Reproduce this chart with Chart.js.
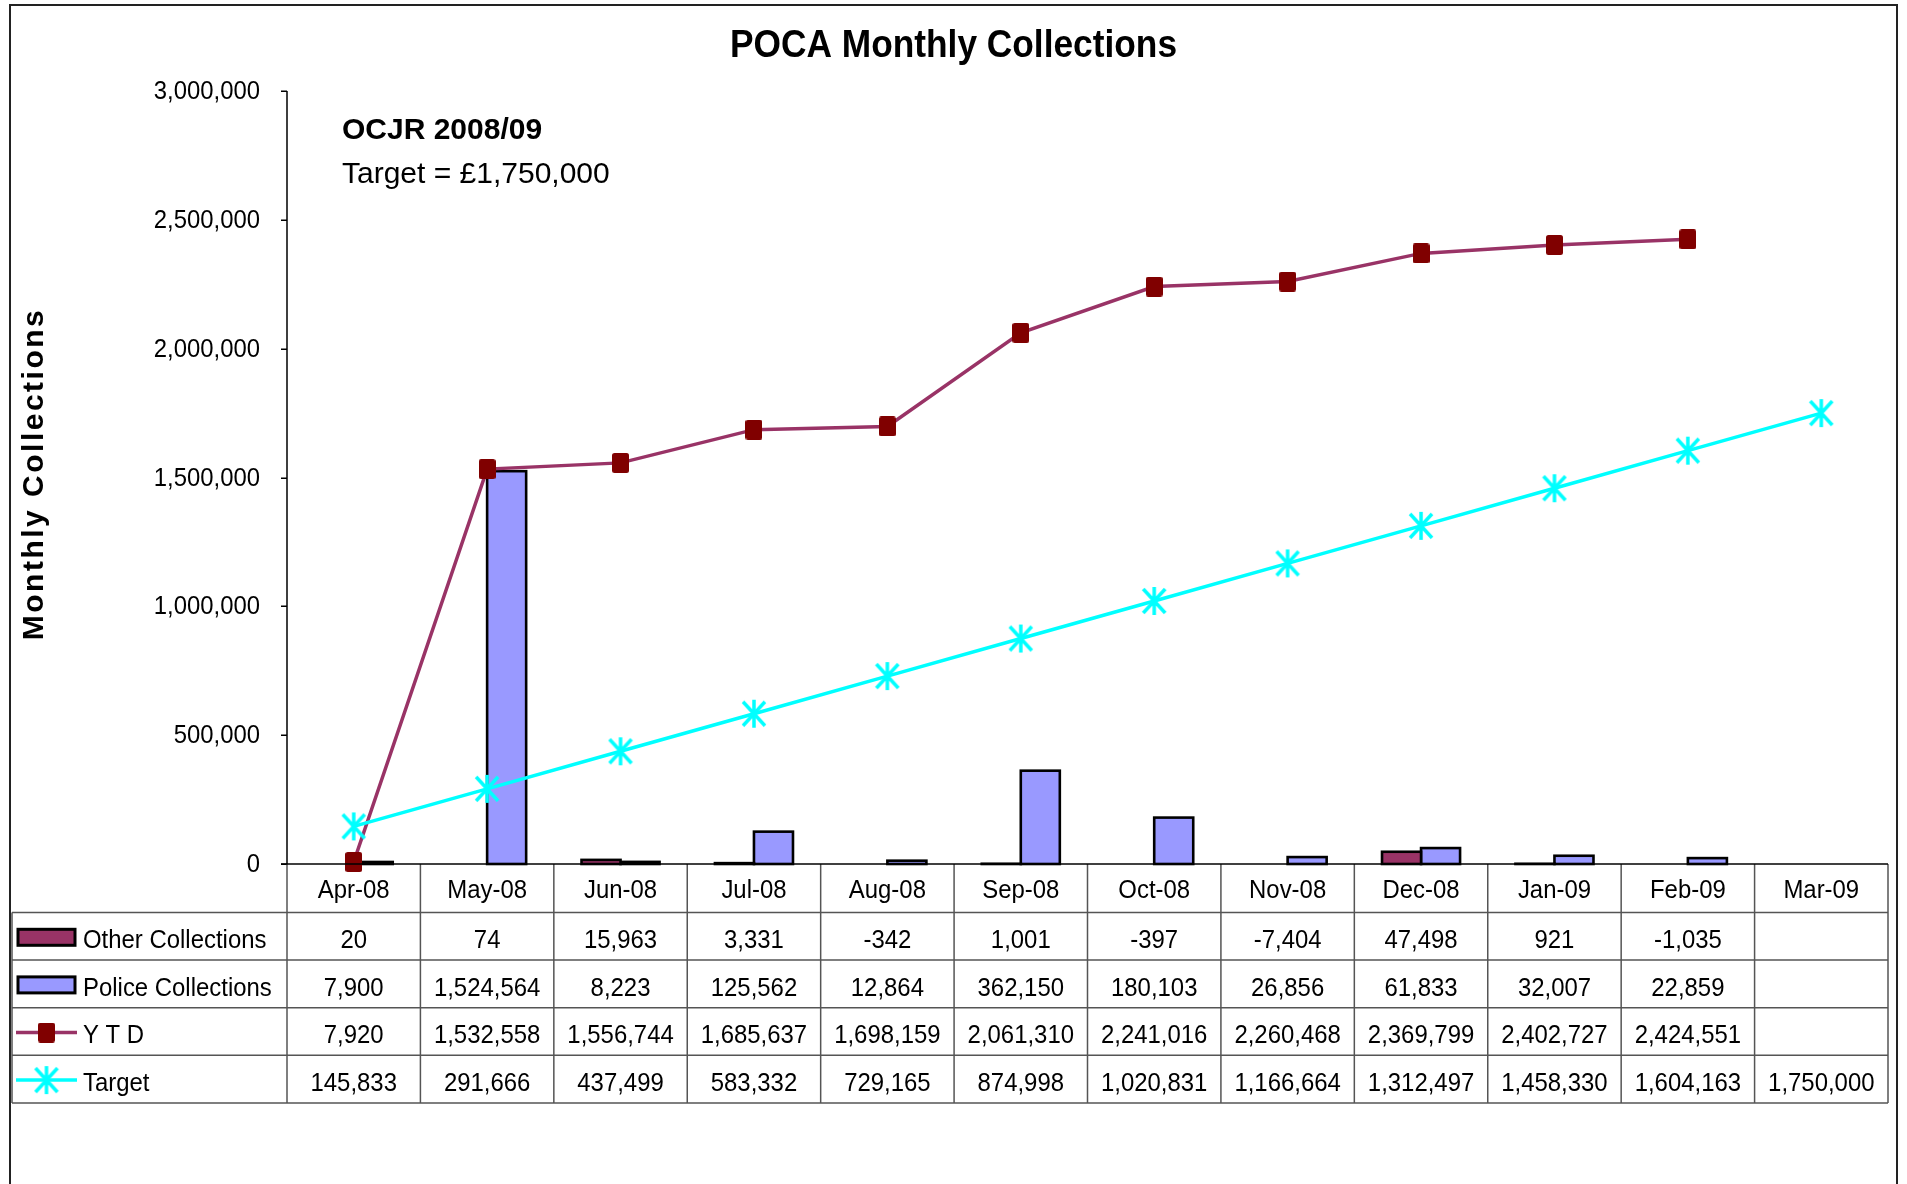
<!DOCTYPE html>
<html>
<head>
<meta charset="utf-8">
<title>POCA Monthly Collections</title>
<script src="https://cdn.jsdelivr.net/npm/chart.js@4.4.0/dist/chart.umd.min.js"></script>
<style>
  html, body { margin: 0; padding: 0; background: #fff; overflow: hidden; }
  canvas { display: block; }
</style>
</head>
<body>
<canvas id="chart" width="1907" height="1184"></canvas>
<script>
// Monthly collections, financial year 2008/09
const months = ['Apr-08', 'May-08', 'Jun-08', 'Jul-08', 'Aug-08', 'Sep-08',
                'Oct-08', 'Nov-08', 'Dec-08', 'Jan-09', 'Feb-09', 'Mar-09'];
const otherCollections  = [20, 74, 15963, 3331, -342, 1001, -397, -7404, 47498, 921, -1035, null];
const policeCollections = [7900, 1524564, 8223, 125562, 12864, 362150, 180103, 26856, 61833, 32007, 22859, null];
const ytdTotals         = [7920, 1532558, 1556744, 1685637, 1698159, 2061310, 2241016, 2260468, 2369799, 2402727, 2424551, null];
const targetValues      = [145833, 291666, 437499, 583332, 729165, 874998, 1020831, 1166664, 1312497, 1458330, 1604163, 1750000];
const yTickValues       = [0, 500000, 1000000, 1500000, 2000000, 2500000, 3000000];

const chartTitle = 'POCA Monthly Collections';
const axisTitle = 'Monthly Collections';
const noteHeading = 'OCJR 2008/09';
const noteTarget = 'Target = £1,750,000';

const FONT = "'Liberation Sans', Arial, Helvetica, sans-serif";
const C_OTHER = '#993366';
const C_POLICE = '#9999FF';
const C_YTD_MARK = '#800000';
const C_TARGET = '#00FFFF';
const C_GRID = '#555555';

const fmt = v => (v === null || v === undefined) ? '' : v.toLocaleString('en-US');

// Text drawn slightly condensed horizontally
function condensedText(ctx, text, x, y, sx, align) {
  ctx.save();
  ctx.translate(x, y);
  ctx.scale(sx, 1);
  ctx.textAlign = align;
  ctx.fillText(text, 0, 0);
  ctx.restore();
}

// Asterisk marker: vertical stroke plus a diagonal cross
function makeAsterisk(w, h, color, lw) {
  const c = document.createElement('canvas');
  c.width = w; c.height = h;
  const g = c.getContext('2d');
  const mx = w / 2, my = h / 2;
  g.strokeStyle = color;
  g.lineWidth = lw;
  g.beginPath();
  g.moveTo(mx, 1); g.lineTo(mx, h - 1);
  g.moveTo(mx - 11, my - 12); g.lineTo(mx + 11, my + 12);
  g.moveTo(mx + 11, my - 12); g.lineTo(mx - 11, my + 12);
  g.stroke();
  return c;
}
// Rounded block marker for the year-to-date line
function makeBlock(w, h, color) {
  const c = document.createElement('canvas');
  c.width = w; c.height = h;
  const g = c.getContext('2d');
  g.fillStyle = color;
  g.beginPath();
  g.roundRect(0, 0, w, h, 2.5);
  g.fill();
  return c;
}
const asteriskMarker = makeAsterisk(26, 30, C_TARGET, 3.5);
const blockMarker = makeBlock(17, 20, C_YTD_MARK);

function drawKey(ctx, kind, x0, x1, cy) {
  ctx.save();
  if (kind === 'other' || kind === 'police') {
    ctx.fillStyle = kind === 'other' ? C_OTHER : C_POLICE;
    ctx.fillRect(x0 + 2, cy - 8, x1 - x0 - 4, 16);
    ctx.strokeStyle = '#000';
    ctx.lineWidth = 3;
    ctx.strokeRect(x0 + 2, cy - 8, x1 - x0 - 4, 16);
  } else if (kind === 'ytd') {
    ctx.strokeStyle = C_OTHER;
    ctx.lineWidth = 3.5;
    ctx.beginPath(); ctx.moveTo(x0, cy); ctx.lineTo(x1, cy); ctx.stroke();
    const mx = (x0 + x1) / 2;
    ctx.drawImage(blockMarker, mx - 8.5, cy - 10);
  } else {
    ctx.strokeStyle = C_TARGET;
    ctx.lineWidth = 3.5;
    ctx.beginPath(); ctx.moveTo(x0, cy); ctx.lineTo(x1, cy); ctx.stroke();
    const mx = (x0 + x1) / 2;
    ctx.drawImage(asteriskMarker, mx - 13, cy - 15);
  }
  ctx.restore();
}

const tableRows = [
  { label: 'Other Collections',  values: otherCollections,  key: 'other' },
  { label: 'Police Collections', values: policeCollections, key: 'police' },
  { label: 'Y T D',              values: ytdTotals,         key: 'ytd' },
  { label: 'Target',             values: targetValues,      key: 'target' }
];

// Black outline around every column bar, centred on the bar edge
const barOutlines = {
  id: 'barOutlines',
  afterDatasetDraw(chart, args) {
    const meta = args.meta;
    if (meta.type !== 'bar') return;
    const ctx = chart.ctx;
    ctx.save();
    ctx.strokeStyle = '#000';
    ctx.lineWidth = 2.6;
    meta.data.forEach((el, i) => {
      const v = meta._dataset.data[i];
      if (v === null || v <= 0) return;
      const p = el.getProps(['x', 'y', 'base', 'width'], true);
      const h = p.base - p.y;
      if (h < 0.2) return;
      ctx.strokeRect(p.x - p.width / 2, p.y, p.width, h);
    });
    ctx.restore();
  }
};

// Frame, title, notes, value axis and the data table beneath the plot
const decorations = {
  id: 'decorations',
  beforeDraw(chart) {
    const ctx = chart.ctx;
    ctx.save();
    ctx.fillStyle = '#fff';
    ctx.fillRect(0, 0, chart.width, chart.height);
    ctx.strokeStyle = '#222';
    ctx.lineWidth = 2;
    ctx.strokeRect(10, 5, 1887, 1300);
    ctx.restore();
  },
  afterDraw(chart) {
    const { ctx, chartArea: ca, scales: { x, y } } = chart;
    ctx.save();
    ctx.fillStyle = '#000';

    // chart title
    ctx.textBaseline = 'alphabetic';
    ctx.font = `bold 39px ${FONT}`;
    condensedText(ctx, chartTitle, chart.width / 2, 57, 0.905, 'center');

    // notes in the upper-left of the plot
    ctx.textBaseline = 'middle';
    ctx.textAlign = 'left';
    ctx.font = `bold 30px ${FONT}`;
    ctx.fillText(noteHeading, 342, 131);
    ctx.font = `30px ${FONT}`;
    ctx.fillText(noteTarget, 342, 175);

    // vertical axis title
    ctx.save();
    ctx.translate(35, 474);
    ctx.rotate(-Math.PI / 2);
    ctx.textAlign = 'center';
    ctx.textBaseline = 'middle';
    ctx.font = `bold 30px ${FONT}`;
    if ('letterSpacing' in ctx) ctx.letterSpacing = '2.5px';
    ctx.fillText(axisTitle, 0, 0);
    ctx.restore();

    // value axis: line, tick marks, labels
    ctx.strokeStyle = '#000';
    ctx.lineWidth = 1.5;
    ctx.beginPath();
    ctx.moveTo(ca.left, ca.top); ctx.lineTo(ca.left, ca.bottom);
    yTickValues.forEach(v => {
      const py = Math.round(y.getPixelForValue(v)) + 0.25;
      ctx.moveTo(ca.left - 6, py); ctx.lineTo(ca.left, py);
    });
    ctx.stroke();
    ctx.textBaseline = 'alphabetic';
    ctx.font = `25px ${FONT}`;
    yTickValues.forEach(v => {
      condensedText(ctx, fmt(v), ca.left - 27, y.getPixelForValue(v) + 8, 0.955, 'right');
    });

    // column edges from the category scale
    const step = x.getPixelForValue(1) - x.getPixelForValue(0);
    const edges = months.map((_, i) => x.getPixelForValue(i) - step / 2);
    edges.push(x.getPixelForValue(months.length - 1) + step / 2);
    const right = edges[edges.length - 1];
    const headTop = ca.bottom;
    const headBottom = headTop + 48.5;
    const rowH = 47.6;
    const tableLeft = 12;
    const tableBottom = headBottom + rowH * tableRows.length;

    ctx.strokeStyle = C_GRID;
    ctx.lineWidth = 1.5;
    ctx.beginPath();
    edges.forEach(ex => { ctx.moveTo(ex, headTop); ctx.lineTo(ex, tableBottom); });
    ctx.moveTo(tableLeft, headBottom); ctx.lineTo(tableLeft, tableBottom);
    for (let k = 0; k <= tableRows.length; k++) {
      const yy = headBottom + k * rowH;
      ctx.moveTo(tableLeft, yy); ctx.lineTo(right, yy);
    }
    ctx.stroke();

    // category axis baseline
    ctx.strokeStyle = '#000';
    ctx.lineWidth = 1.5;
    ctx.beginPath();
    ctx.moveTo(ca.left - 6, headTop); ctx.lineTo(right, headTop);
    ctx.stroke();

    // category labels
    ctx.fillStyle = '#000';
    ctx.font = `26px ${FONT}`;
    ctx.textBaseline = 'alphabetic';
    months.forEach((m, i) => condensedText(ctx, m, x.getPixelForValue(i), headTop + 33.5, 0.92, 'center'));

    // rows: legend key, label, values
    tableRows.forEach((row, r) => {
      const top = headBottom + r * rowH;
      const base = top + 35.5;
      drawKey(ctx, row.key, 16, 77, top + rowH / 2 + 1);
      ctx.fillStyle = '#000';
      condensedText(ctx, row.label, 83, base, 0.92, 'left');
      row.values.forEach((v, i) => condensedText(ctx, fmt(v), x.getPixelForValue(i), base, 0.92, 'center'));
    });

    ctx.restore();
  }
};

new Chart(document.getElementById('chart'), {
  data: {
    labels: months,
    datasets: [
      {
        type: 'line', label: 'Target', data: targetValues, order: 0,
        borderColor: C_TARGET, borderWidth: 3.5, tension: 0, clip: false,
        pointStyle: asteriskMarker, pointRadius: 13
      },
      {
        type: 'line', label: 'Y T D', data: ytdTotals, order: 1,
        borderColor: C_OTHER, borderWidth: 3.5, tension: 0, clip: false,
        pointStyle: blockMarker, pointRadius: 10
      },
      {
        type: 'bar', label: 'Other Collections', data: otherCollections, order: 2,
        backgroundColor: C_OTHER, borderWidth: 0,
        categoryPercentage: 0.585, barPercentage: 1
      },
      {
        type: 'bar', label: 'Police Collections', data: policeCollections, order: 3,
        backgroundColor: C_POLICE, borderWidth: 0,
        categoryPercentage: 0.585, barPercentage: 1
      }
    ]
  },
  options: {
    responsive: false,
    animation: false,
    events: [],
    layout: { padding: { left: 287, top: 91, right: 19, bottom: 320 } },
    plugins: { legend: { display: false }, title: { display: false }, tooltip: { enabled: false } },
    scales: {
      x: { type: 'category', display: false, offset: true },
      y: { display: false, min: 0, max: 3000000 }
    }
  },
  plugins: [barOutlines, decorations]
});
</script>
</body>
</html>
